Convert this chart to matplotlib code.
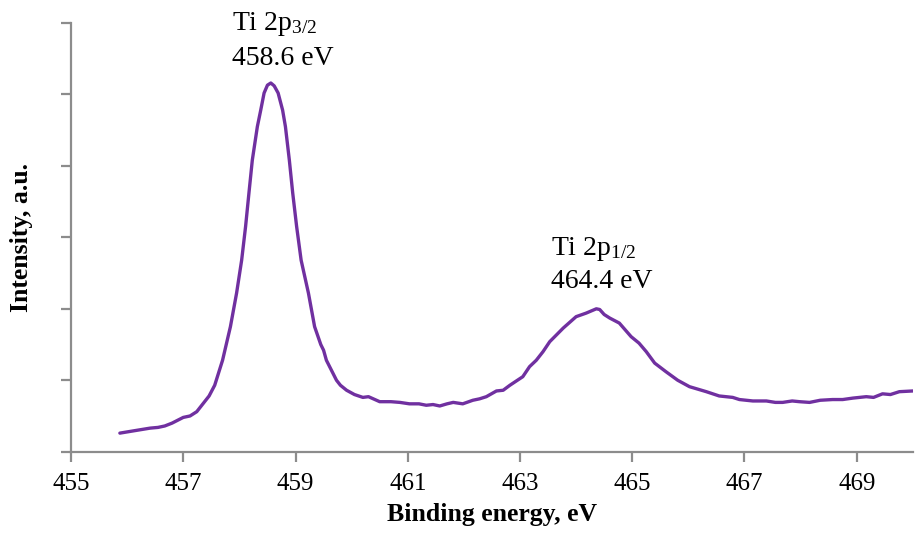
import matplotlib.pyplot as plt

plt.rcParams['font.family'] = ['Liberation Serif', 'DejaVu Serif']
plt.rcParams['mathtext.fontset'] = 'custom'
plt.rcParams['mathtext.rm'] = 'Liberation Serif'
plt.rcParams['mathtext.it'] = 'Liberation Serif'

# Ti 2p XPS spectrum (binding energy in eV, intensity in a.u.)
energy = [455.87, 456.10, 456.41, 456.55, 456.67, 456.80, 457.00, 457.12, 457.24,
          457.36, 457.46, 457.56, 457.70, 457.84, 457.95, 458.04, 458.11, 458.17,
          458.23, 458.32, 458.38, 458.44, 458.50, 458.56, 458.62, 458.69, 458.77,
          458.82, 458.89, 458.95, 459.02, 459.10, 459.23, 459.34, 459.45, 459.50,
          459.55, 459.64, 459.73, 459.80, 459.91, 460.05, 460.20, 460.30, 460.50,
          460.70, 460.86, 461.03, 461.20, 461.33, 461.45, 461.57, 461.70, 461.81,
          461.98, 462.16, 462.28, 462.40, 462.58, 462.70, 462.82, 463.05, 463.17,
          463.29, 463.41, 463.53, 463.77, 464.00, 464.18, 464.36, 464.42, 464.50,
          464.60, 464.77, 464.98, 465.12, 465.25, 465.40, 465.60, 465.81, 466.02,
          466.32, 466.55, 466.79, 466.91, 467.15, 467.39, 467.55, 467.68, 467.85,
          467.98, 468.16, 468.35, 468.57, 468.75, 468.93, 469.17, 469.30, 469.46,
          469.60, 469.76, 470.00]
intensity = [0.26, 0.29, 0.33, 0.34, 0.36, 0.40, 0.48, 0.50, 0.56,
             0.68, 0.78, 0.93, 1.28, 1.75, 2.22, 2.68, 3.15, 3.62,
             4.08, 4.55, 4.78, 5.02, 5.13, 5.16, 5.12, 5.02, 4.78,
             4.55, 4.08, 3.62, 3.15, 2.68, 2.22, 1.75, 1.50, 1.42,
             1.28, 1.14, 1.00, 0.93, 0.86, 0.80, 0.76, 0.77, 0.70,
             0.70, 0.69, 0.67, 0.67, 0.65, 0.66, 0.64, 0.67, 0.69,
             0.67, 0.72, 0.74, 0.77, 0.85, 0.86, 0.93, 1.05, 1.19,
             1.28, 1.40, 1.54, 1.73, 1.89, 1.94, 2.00, 1.99, 1.92,
             1.87, 1.80, 1.61, 1.52, 1.40, 1.24, 1.12, 1.00, 0.91,
             0.84, 0.78, 0.76, 0.73, 0.71, 0.71, 0.69, 0.69, 0.71,
             0.70, 0.69, 0.72, 0.73, 0.73, 0.75, 0.77, 0.76, 0.81,
             0.80, 0.84, 0.85]

x_ticks = [455, 457, 459, 461, 463, 465, 467, 469]

fig = plt.figure(figsize=(9.19, 5.42), dpi=100)
ax = fig.add_axes([0.0773, 0.1666, 0.916, 0.791])

ax.plot(energy, intensity, color='#7030A0', linewidth=2.4,
        solid_joinstyle='round', solid_capstyle='round')

ax.set_xlim(455, 470)
ax.set_ylim(0, 6)
ax.set_xticks(x_ticks)
ax.set_yticks(range(0, 7))
ax.set_yticklabels([])

for side in ['top', 'right']:
    ax.spines[side].set_visible(False)
for side in ['left', 'bottom']:
    ax.spines[side].set_color('#8c8c8c')
    ax.spines[side].set_linewidth(1.6)
ax.tick_params(axis='both', direction='out', length=7, width=1.6, color='#8c8c8c')
ax.tick_params(axis='x', labelsize=18, pad=8)

ax.set_xlabel('Binding energy, eV', fontsize=18.5, fontweight='bold', labelpad=6)
ax.set_ylabel('Intensity, a.u.', fontsize=18.5, fontweight='bold')
ax.yaxis.set_label_coords(-0.045, 0.5)

# peak labels
ax.text(457.87, 5.90, r'Ti 2p$_{3/2}$', fontsize=20, va='baseline', clip_on=False)
ax.text(457.87, 5.41, '458.6 eV', fontsize=20, va='baseline', clip_on=False)
ax.text(463.56, 2.75, r'Ti 2p$_{1/2}$', fontsize=20, va='baseline')
ax.text(463.56, 2.29, '464.4 eV', fontsize=20, va='baseline')

fig.savefig('out.png', dpi=100)
